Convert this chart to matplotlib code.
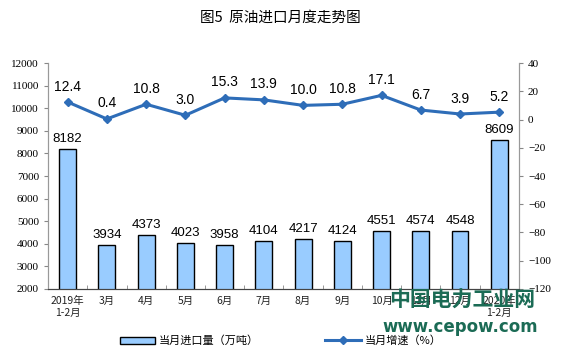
import matplotlib.pyplot as plt
import numpy as np

plt.rcParams['font.family'] = ['Noto Sans CJK SC', 'DejaVu Sans']

months = ['2019年\n1-2月', '3月', '4月', '5月', '6月', '7月', '8月', '9月',
          '10月', '11月', '12月', '2020年\n1-2月']
imports = [8182, 3934, 4373, 4023, 3958, 4104, 4217, 4124, 4551, 4574, 4548, 8609]
growth = [12.4, 0.4, 10.8, 3.0, 15.3, 13.9, 10.0, 10.8, 17.1, 6.7, 3.9, 5.2]

fig = plt.figure(figsize=(5.61, 3.57), dpi=100)
ax = fig.add_axes([0.0856, 0.1905, 0.8394, 0.633])
ax2 = ax.twinx()

x = np.arange(len(months))
ax.bar(x, imports, width=0.43, color='#99CCFF', edgecolor='black',
       linewidth=1.0, label='当月进口量（万吨）', zorder=2)
for xi, v in zip(x, imports):
    ax.text(xi, v + 180, str(v), ha='center', va='bottom', fontsize=9.5,
            family=['Liberation Sans', 'DejaVu Sans'])

ax.set_xlim(-0.5, len(months) - 0.5)
ax.set_ylim(2000, 12000)
ax.set_yticks(np.arange(2000, 12001, 1000))
ax.set_xticks(x)
ax.set_xticklabels(months, fontsize=7.5, color='#222222')
ax.set_xticks(np.arange(-0.5, len(months), 1), minor=True)
ax.tick_params(axis='x', which='major', length=0, pad=5)
ax.tick_params(axis='x', which='minor', direction='in', length=3, color='#888888')
ax.tick_params(axis='y', labelsize=8, length=3, color='#888888')
for lab in ax.get_yticklabels():
    lab.set_family(['Liberation Serif', 'DejaVu Serif'])

ax2.plot(x, growth, color='#2E6DB8', linewidth=2.2, marker='D', markersize=4.5,
         label='当月增速（%）', zorder=3)
for xi, v in zip(x, growth):
    ax2.text(xi, v + 6, f'{v:.1f}', ha='center', va='bottom', fontsize=10,
             family=['Liberation Sans', 'DejaVu Sans'])
ax2.set_ylim(-120, 40)
ax2.set_yticks(np.arange(-120, 41, 20))
ax2.tick_params(axis='y', labelsize=8, length=3, color='#888888')
for lab in ax2.get_yticklabels():
    lab.set_family(['Liberation Serif', 'DejaVu Serif'])

for a in (ax, ax2):
    a.spines['top'].set_visible(False)
    for s in ('left', 'right'):
        a.spines[s].set_color('#999999')
    a.spines['bottom'].set_color('#444444')

fig.text(0.5, 0.95, '图5  原油进口月度走势图', ha='center', va='center',
         fontsize=10.5, fontweight='medium')

h1, l1 = ax.get_legend_handles_labels()
h2, l2 = ax2.get_legend_handles_labels()
fig.legend(h1 + h2, l1 + l2, loc='center', bbox_to_anchor=(0.5, 0.045), ncol=2,
           frameon=False, fontsize=8, handlelength=3.2, columnspacing=6,
           handletextpad=0.3)

# watermark
fig.text(0.823, 0.16, '中国电力工业网', ha='center', va='center', fontsize=15,
         fontweight='bold', color='#1B6B55')
fig.text(0.82, 0.083, 'www.cepow.com', ha='center', va='center', fontsize=12,
         fontweight='bold', color='#1B6B55', family=['DejaVu Sans'])

fig.savefig('out.png', dpi=100)
